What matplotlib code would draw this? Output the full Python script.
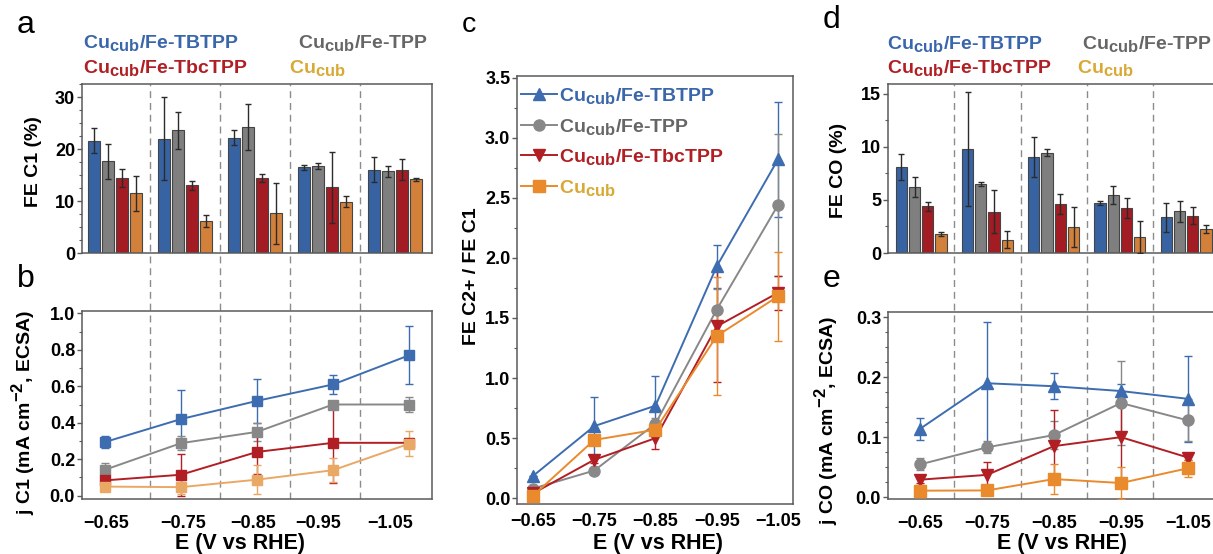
import matplotlib
matplotlib.use('Agg')
import matplotlib.pyplot as plt
import matplotlib._mathtext as mathtext_mod
from matplotlib.lines import Line2D
from matplotlib.ticker import MultipleLocator
import numpy as np

plt.rcParams['font.family'] = ['Liberation Sans', 'DejaVu Sans']
plt.rcParams['font.weight'] = 'bold'
plt.rcParams['axes.labelweight'] = 'bold'
plt.rcParams['mathtext.default'] = 'regular'
# subscripts in the original are only slightly smaller than the main text
mathtext_mod.SHRINK_FACTOR = 0.85

# ---- data ----
potentials = ['\u22120.65', '\u22120.75', '\u22120.85', '\u22120.95', '\u22121.05']
samples = ['Cu$_{cub}$/Fe-TBTPP', 'Cu$_{cub}$/Fe-TPP', 'Cu$_{cub}$/Fe-TbcTPP', 'Cu$_{cub}$']

# a: FE C1 (%)
fe_c1 = [[21.6, 22.0, 22.2, 16.5, 16.0],
         [17.6, 23.6, 24.2, 16.7, 15.7],
         [14.4, 13.0, 14.4, 12.6, 16.0],
         [11.5, 6.2, 7.6, 9.9, 14.2]]
fe_c1_err = [[2.4, 8.0, 1.5, 0.45, 2.4],
             [3.4, 3.6, 4.4, 0.6, 1.1],
             [1.8, 0.8, 0.7, 6.9, 2.0],
             [3.4, 1.2, 5.8, 1.0, 0.3]]

# b: j C1 (mA cm-2, ECSA)
j_c1 = [[0.294, 0.42, 0.52, 0.61, 0.77],
        [0.142, 0.288, 0.35, 0.50, 0.50],
        [0.084, 0.115, 0.24, 0.29, 0.29],
        [0.05, 0.047, 0.088, 0.14, 0.285]]
j_c1_err = [[0.034, 0.16, 0.12, 0.05, 0.16],
            [0.04, 0.04, 0.05, 0.01, 0.04],
            [0.01, 0.115, 0.12, 0.22, 0.015],
            [0.01, 0.04, 0.08, 0.065, 0.07]]

# c: FE C2+ / FE C1
ratio = [[0.185, 0.60, 0.77, 1.93, 2.82],
         [0.08, 0.23, 0.62, 1.57, 2.44],
         [0.04, 0.32, 0.50, 1.43, 1.71],
         [0.02, 0.485, 0.57, 1.35, 1.68]]
ratio_err = [[0.0, 0.24, 0.25, 0.18, 0.48],
             [0.02, 0.02, 0.05, 0.17, 0.59],
             [0.02, 0.03, 0.09, 0.46, 0.14],
             [0.02, 0.02, 0.05, 0.49, 0.37]]

# d: FE CO (%)
fe_co = [[8.1, 9.8, 9.06, 4.75, 3.36],
         [6.2, 6.54, 9.47, 5.44, 3.93],
         [4.4, 3.9, 4.6, 4.25, 3.52],
         [1.76, 1.23, 2.45, 1.48, 2.26]]
fe_co_err = [[1.2, 5.4, 1.9, 0.2, 1.4],
             [0.95, 0.2, 0.35, 0.85, 1.0],
             [0.45, 2.0, 0.95, 0.95, 0.8],
             [0.2, 0.8, 1.9, 1.5, 0.4]]

# e: j CO (mA cm-2, ECSA)
j_co = [[0.114, 0.190, 0.185, 0.177, 0.164],
        [0.0545, 0.083, 0.1035, 0.157, 0.128],
        [0.029, 0.037, 0.085, 0.10, 0.066],
        [0.0106, 0.011, 0.030, 0.0234, 0.048]]
j_co_err = [[0.018, 0.103, 0.022, 0.012, 0.072],
            [0.01, 0.01, 0.024, 0.07, 0.035],
            [0.006, 0.021, 0.06, 0.075, 0.005],
            [0.01, 0.003, 0.025, 0.026, 0.014]]

# ---- style ----
bar_colors = ['#3763a3', '#7f7f7f', '#a31c24', '#d3813a']
line_colors_b = ['#3d6db0', '#888888', '#b11e24', '#eaa865']
line_colors = ['#3d6db0', '#888888', '#b11e24', '#e98a2c']
text_colors = ['#3a66ab', '#666666', '#b01f24', '#d9a935']
markers_c = ['^', 'o', 'v', 's']
spine_col = '#5a5a5a'

W, H = 1213, 554
fig = plt.figure(figsize=(W / 100, H / 100), dpi=100)


def px_axes(l, t, r, b):
    return fig.add_axes([l / W, 1 - b / H, (r - l) / W, (b - t) / H])


def style(ax, xpad=11.5):
    ax.set_facecolor('none')
    for s in ax.spines.values():
        s.set_color(spine_col)
        s.set_linewidth(1.1)
    ax.tick_params(axis='y', which='major', direction='out', length=3.5, width=1,
                   color=spine_col, labelsize=13, pad=1.5)
    ax.tick_params(axis='y', which='minor', direction='out', length=2, width=0.8,
                   color=spine_col)
    ax.tick_params(axis='x', length=0, labelsize=13, pad=xpad)


# dashed separators spanning the stacked panels
for (l, r, xl) in [(82, 432, (-0.47, 4.53)), (888, 1220, (-0.5, 4.51))]:
    ov = px_axes(l, 84, r, 499)
    ov.set_xlim(*xl)
    ov.axis('off')
    for xs in np.arange(4) + 0.5:
        ov.axvline(xs, color='#8c8c8c', lw=1, ls=(0, (5, 3.5)))

x = np.arange(len(potentials))
offsets = (np.arange(4) - 1.5) * 0.2


def bar_panel(ax, vals, errs, xl, ylim, major, minor, ylabel):
    for i in range(4):
        ax.bar(x + offsets[i], vals[i], width=0.17, color=bar_colors[i],
               edgecolor='#454545', linewidth=0.8, zorder=2)
        ax.errorbar(x + offsets[i], vals[i], yerr=errs[i], fmt='none',
                    ecolor='#2b2b2b', elinewidth=1, capsize=2.5, capthick=1, zorder=3)
    ax.set_xlim(*xl)
    ax.set_ylim(*ylim)
    ax.set_xticks([])
    ax.yaxis.set_major_locator(MultipleLocator(major))
    ax.yaxis.set_minor_locator(MultipleLocator(minor))
    ax.set_ylabel(ylabel, fontsize=14)
    style(ax)


def line_panel(ax, vals, errs, colors, markers, ms):
    for i in range(4):
        ax.errorbar(x, vals[i], yerr=errs[i], color=colors[i], marker=markers[i],
                    ms=ms, lw=1.4, elinewidth=1, capsize=3, capthick=1, zorder=3)


# a
ax_a = px_axes(82, 84, 432, 253)
bar_panel(ax_a, fe_c1, fe_c1_err, (-0.47, 4.53), (0, 32.5), 10, 2.5, 'FE C1 (%)')
ax_a.yaxis.set_label_coords(-0.114, 0.54)

# b
ax_b = px_axes(82, 311, 432, 499)
line_panel(ax_b, j_c1, j_c1_err, line_colors_b, ['s'] * 4, 7)
ax_b.set_xlim(-0.30, 4.30)
ax_b.set_ylim(-0.018, 1.0126)
ax_b.set_xticks([0.02, 1.03, 1.95, 2.80, 3.75])
ax_b.set_xticklabels(potentials)
ax_b.yaxis.set_major_locator(MultipleLocator(0.2))
ax_b.yaxis.set_minor_locator(MultipleLocator(0.1))
ax_b.set_ylabel('j C1 (mA cm$^{-2}$, ECSA)', fontsize=14)
ax_b.set_xlabel('E (V vs RHE)', fontsize=15.5, va='top')
style(ax_b)
ax_b.yaxis.set_label_coords(-0.129, 0.463)
ax_b.xaxis.set_label_coords(0.451, -0.181)

# c
ax_c = px_axes(517.3, 76, 792.7, 503.5)
line_panel(ax_c, ratio, ratio_err, line_colors, markers_c, 8)
ax_c.set_xlim(-0.256, 4.24)
ax_c.set_ylim(-0.044, 3.514)
ax_c.set_xticks(x)
ax_c.set_xticklabels(potentials)
ax_c.yaxis.set_major_locator(MultipleLocator(0.5))
ax_c.yaxis.set_minor_locator(MultipleLocator(0.25))
ax_c.set_ylabel('FE C2+ / FE C1', fontsize=14)
ax_c.set_xlabel('E (V vs RHE)', fontsize=15.5, va='top')
style(ax_c, xpad=7)
ax_c.yaxis.set_label_coords(-0.135, 0.532)
ax_c.xaxis.set_label_coords(0.511, -0.069)
handles = [Line2D([], [], color=line_colors[i], marker=markers_c[i], ms=8, lw=1.4)
           for i in range(4)]
ax_c.legend(handles, samples, loc='upper left', bbox_to_anchor=(0, 0.986), frameon=False,
            prop={'size': 14, 'weight': 'bold'}, handlelength=1.82, handletextpad=0.15,
            labelspacing=0.55, borderaxespad=0, borderpad=0.2, labelcolor=text_colors)

# d
ax_d = px_axes(888, 84, 1220, 253)
bar_panel(ax_d, fe_co, fe_co_err, (-0.5, 4.51), (0, 15.94), 5, 2.5, 'FE CO (%)')
ax_d.yaxis.set_label_coords(-0.123, 0.49)

# e
ax_e = px_axes(888, 312, 1220, 499)
line_panel(ax_e, j_co, j_co_err, line_colors, markers_c, 8)
ax_e.set_xlim(-0.48, 4.48)
ax_e.set_ylim(-0.0033, 0.309)
ax_e.set_xticks(x)
ax_e.set_xticklabels(potentials)
ax_e.yaxis.set_major_locator(MultipleLocator(0.1))
ax_e.yaxis.set_minor_locator(MultipleLocator(0.025))
ax_e.set_ylabel('j CO (mA cm$^{-2}$, ECSA)', fontsize=14)
ax_e.set_xlabel('E (V vs RHE)', fontsize=15.5, va='top')
style(ax_e)
ax_e.yaxis.set_label_coords(-0.145, 0.42)
ax_e.xaxis.set_label_coords(0.524, -0.182)

# sample labels above bar panels
label_pos = [[(83, 48), (298, 48), (83, 73), (289, 73)],
             [(887, 49), (1082, 49), (887, 73), (1077, 73)]]
for pos in label_pos:
    for i in range(4):
        fig.text(pos[i][0] / W, 1 - pos[i][1] / H, samples[i], color=text_colors[i],
                 fontsize=14, fontweight='bold', va='baseline', ha='left')

# panel letters
for letter, px, py, fs in [('a', 17, 33, 23), ('b', 17, 287, 23), ('c', 462, 32, 20.5),
                           ('d', 823, 28, 23), ('e', 823, 287, 23)]:
    fig.text(px / W, 1 - py / H, letter, fontsize=fs, fontweight='normal',
             va='baseline', ha='left')

fig.savefig('out.png', dpi=100)
